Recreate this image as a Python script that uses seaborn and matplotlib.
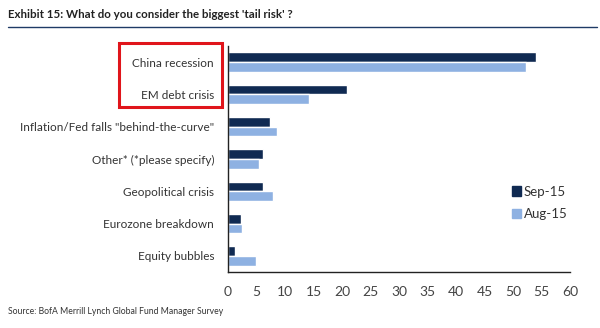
import matplotlib
matplotlib.use("Agg")
import matplotlib.pyplot as plt
import seaborn as sns
import pandas as pd
from matplotlib.patches import Rectangle
from matplotlib.lines import Line2D

categories = ["China recession", "EM debt crisis", "Inflation/Fed falls \"behind-the-curve\"",
              "Other* (*please specify)", "Geopolitical crisis", "Eurozone breakdown", "Equity bubbles"]
sep15 = [54.1, 20.9, 7.3, 6.1, 6.1, 2.3, 1.2]
aug15 = [52.2, 14.2, 8.6, 5.5, 7.9, 2.5, 4.9]
series = ["Sep-15", "Aug-15"]
xticks = list(range(0, 61, 5))

df = pd.DataFrame({
    "category": categories * 2,
    "value": sep15 + aug15,
    "series": [series[0]] * len(categories) + [series[1]] * len(categories),
})

sns.set_style("white")
plt.rcParams["font.family"] = ["Lato", "DejaVu Sans"]

navy = "#102a52"
light = "#8eb1e2"
fig = plt.figure(figsize=(6.0, 3.28), dpi=100)
ax = fig.add_axes([228/600, 1 - 272/328, (570-228)/600, (272-46)/328])

sns.barplot(data=df, y="category", x="value", hue="series", orient="h",
            palette=[navy, light], order=categories, hue_order=series,
            width=0.6, ax=ax, legend=False, saturation=1)

ax.set_xlim(0, 60)
ax.set_ylim(len(categories) - 0.5, -0.5)
ax.set_xticks(xticks)
ax.set_xticklabels([str(t) for t in xticks], fontsize=10, color="#444444")
ax.set_yticks(range(len(categories)))
ax.set_yticklabels(categories, fontsize=8.5, color="#333333")
ax.tick_params(axis="y", which="major", length=0, pad=10)
ax.set_yticks([i + 0.5 for i in range(len(categories) - 1)], minor=True)
ax.tick_params(axis="y", which="minor", length=4, width=0.8, color="#222222", direction="out")
ax.tick_params(axis="x", which="major", length=4, width=0.8, color="#222222", direction="out", pad=6)
ax.set_xlabel("")
ax.set_ylabel("")
for s in ["top", "right"]:
    ax.spines[s].set_visible(False)
for s in ["left", "bottom"]:
    ax.spines[s].set_color("#222222")
    ax.spines[s].set_linewidth(1.0)

handles = [Rectangle((0, 0), 1, 1, color=navy), Rectangle((0, 0), 1, 1, color=light)]
fig.legend(handles, series, loc="center left", bbox_to_anchor=(500/600, 1 - 203/328),
           frameon=False, fontsize=9.5, handlelength=0.7, handleheight=0.7,
           handletextpad=0.2, labelspacing=0.8, labelcolor="#333333")

fig.text(8/600, 1 - 15/328, "Exhibit 15: What do you consider the biggest 'tail risk' ?",
         fontsize=8.3, fontweight="bold", color="#222222", va="center", ha="left")
fig.add_artist(Line2D([8/600, 597/600], [1 - 27/328, 1 - 27/328], color="#1f3b66", lw=1.0))
fig.text(8/600, 1 - 311/328, "Source: BofA Merrill Lynch Global Fund Manager Survey",
         fontsize=6.2, color="#333333", va="center", ha="left")

fig.add_artist(Rectangle((119/600, 1 - 107/328), (222 - 119)/600, (107 - 43)/328,
                         transform=fig.transFigure, fill=False, edgecolor="#e0151b", lw=2.2))

fig.savefig("out.png", dpi=100)
